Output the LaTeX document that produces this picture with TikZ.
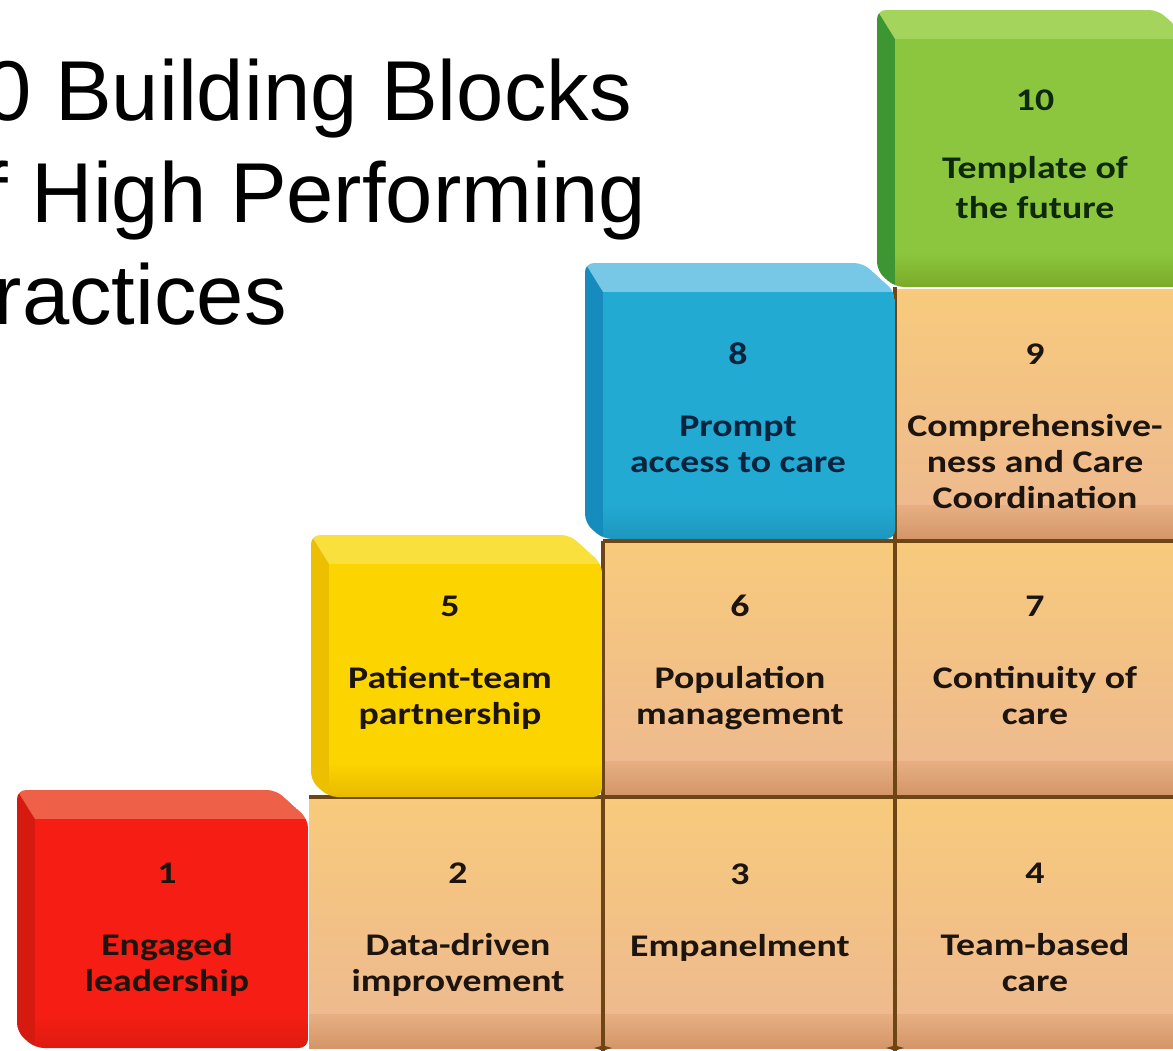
\documentclass[tikz,border=0pt]{standalone}
\usepackage{fontspec}
\setmainfont{Liberation Sans}
\newfontfamily\blockfont{Carlito}[FakeStretch=1.2]

% block colours
\definecolor{rubyface}{RGB}{246,30,20}
\definecolor{rubytop}{RGB}{238,96,72}
\definecolor{rubyside}{RGB}{214,26,16}
\definecolor{rubylow}{RGB}{222,26,16}
\definecolor{sunface}{RGB}{252,212,0}
\definecolor{suntop}{RGB}{250,224,60}
\definecolor{sunside}{RGB}{236,192,0}
\definecolor{sunlow}{RGB}{232,186,0}
\definecolor{skyface}{RGB}{34,170,210}
\definecolor{skytop}{RGB}{118,200,230}
\definecolor{skyside}{RGB}{22,140,190}
\definecolor{skylow}{RGB}{30,150,190}
\definecolor{leafface}{RGB}{140,198,62}
\definecolor{leaftop}{RGB}{164,212,92}
\definecolor{leafside}{RGB}{62,150,50}
\definecolor{leaflow}{RGB}{122,170,40}
\definecolor{tanhi}{RGB}{248,202,124}
\definecolor{tanlo}{RGB}{238,186,142}
\definecolor{tanband}{RGB}{212,150,104}
\definecolor{seam}{RGB}{110,70,22}
\definecolor{ink}{RGB}{28,20,14}
\definecolor{skyink}{RGB}{10,36,62}
\definecolor{leafink}{RGB}{14,40,10}

% coloured block: left, top, right, bottom, colour set
\newcommand{\brick}[5]{%
  \begin{scope}
    \clip[rounded corners=9] (#1,#2) -- (#3-32,#2) -- (#3,#2+29) -- (#3,#4)
      -- (#1+18,#4) -- (#1,#4-16) -- cycle;
    \fill[#5top] (#1,#2) -- (#3-32,#2) -- (#3,#2+29) -- (#1+18,#2+29) -- cycle;
    \fill[#5side] (#1,#2) -- (#1+18,#2+29) -- (#1+18,#4) -- (#1,#4) -- cycle;
    \fill[#5face] (#1+18,#2+29) rectangle (#3,#4-34);
    \shade[top color=#5face, bottom color=#5low] (#1+18,#4-34) rectangle (#3,#4);
  \end{scope}}

% plain tan block: left, top, right, bottom
\newcommand{\tanbrick}[4]{%
  \shade[top color=tanhi, bottom color=tanlo] (#1,#2) rectangle (#3,#4-34);
  \shade[top color=tanlo!70!tanband, bottom color=tanband] (#1,#4-34) rectangle (#3,#4);}

\begin{document}
\begin{tikzpicture}[x=1pt, y=-1pt,
  title/.style={font=\fontsize{85}{102}\selectfont, align=left, anchor=base west, inner sep=0pt},
  lbl/.style={font=\blockfont\bfseries\fontsize{31.5}{36}\selectfont, align=center, anchor=base, inner sep=0pt, text=ink}]

\useasboundingbox (0,0) rectangle (1173,1050);
\clip (0,0) rectangle (1173,1050);
\fill[white] (0,0) rectangle (1173,1050);

% multi-line nodes sit on the baseline of their last line
\node[title] (heading) at (-63,324) {10 Building Blocks\\of High Performing\\Practices};

% tan blocks
\tanbrick{309}{799}{601}{1048}
\tanbrick{605}{799}{893}{1048}
\tanbrick{897}{799}{1180}{1048}
\tanbrick{605}{543}{893}{795}
\tanbrick{897}{543}{1180}{795}
\tanbrick{897}{289}{1180}{539}

% seams
\draw[seam, line width=3.5] (309,797) -- (1180,797);
\draw[seam, line width=3.5] (603,541) -- (1180,541);
\draw[seam, line width=3.5] (603,541) -- (603,1050);
\draw[seam, line width=3.5] (895,287) -- (895,1050);
\foreach \x/\y in {603/797, 895/797, 895/541, 603/1048, 895/1048}
  \fill[seam] (\x,\y) +(-9,0) -- +(-2,-2) -- +(0,-9) -- +(2,-2) -- +(9,0)
    -- +(2,2) -- +(0,9) -- +(-2,2) -- cycle;

% coloured blocks
\brick{17}{790}{308}{1048}{ruby}
\brick{311}{535}{602}{797}{sun}
\brick{585}{263}{895}{539}{sky}
\brick{877}{10}{1190}{287}{leaf}

\node[lbl] (lead) at (167,991) {1\\[36pt]Engaged\\leadership};
\node[lbl] (data) at (458,991) {2\\[36pt]Data-driven\\improvement};
\node[lbl] (panel) at (740,956) {3\\[36pt]Empanelment};
\node[lbl] (team) at (1035,991) {4\\[36pt]Team-based\\care};
\node[lbl] (partner) at (450,724) {5\\[36pt]Patient-team\\partnership};
\node[lbl] (popul) at (740,724) {6\\[36pt]Population\\management};
\node[lbl] (contin) at (1035,724) {7\\[36pt]Continuity of\\care};
\node[lbl, text=skyink] (prompt) at (738,472) {8\\[36pt]Prompt\\access to care};
\node[lbl] (compre) at (1035,508) {9\\[36pt]Comprehensive-\\ness and Care\\Coordination};
\node[lbl, text=leafink, font=\blockfont\bfseries\fontsize{31.5}{40}\selectfont]
  (future) at (1035,218) {10\\[28pt]Template of\\the future};

\end{tikzpicture}
\end{document}
